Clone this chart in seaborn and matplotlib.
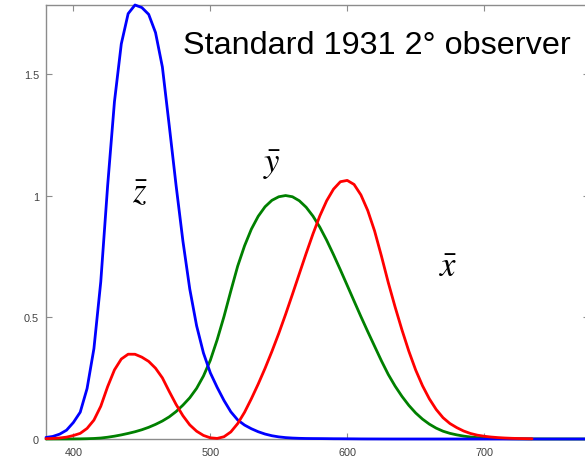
import numpy as np
import pandas as pd
import matplotlib
matplotlib.use("Agg")
import matplotlib.pyplot as plt
import seaborn as sns

wavelength = list(range(380, 785, 5))

x_bar = [0.001368, 0.002236, 0.004243, 0.007650, 0.014310, 0.023190, 0.043510, 0.077630,
         0.134380, 0.214770, 0.283900, 0.328500, 0.348280, 0.348060, 0.336200, 0.318700,
         0.290800, 0.251100, 0.195360, 0.142100, 0.095640, 0.057950, 0.032010, 0.014700,
         0.004900, 0.002400, 0.009300, 0.029100, 0.063270, 0.109600, 0.165500, 0.225750,
         0.290400, 0.359700, 0.433450, 0.512050, 0.594500, 0.678400, 0.762100, 0.842500,
         0.916300, 0.978600, 1.026300, 1.056700, 1.062200, 1.045600, 1.002600, 0.938400,
         0.854450, 0.751400, 0.642400, 0.541900, 0.447900, 0.360800, 0.283500, 0.218700,
         0.164900, 0.121200, 0.087400, 0.063600, 0.046770, 0.032900, 0.022700, 0.015840,
         0.011359, 0.008111, 0.005790, 0.004109, 0.002899, 0.002049, 0.001440, 0.001000]

y_bar = [0.000039, 0.000064, 0.000120, 0.000217, 0.000396, 0.000640, 0.001210, 0.002180,
         0.004000, 0.007300, 0.011600, 0.016840, 0.023000, 0.029800, 0.038000, 0.048000,
         0.060000, 0.073900, 0.090980, 0.112600, 0.139020, 0.169300, 0.208020, 0.258600,
         0.323000, 0.407300, 0.503000, 0.608200, 0.710000, 0.793200, 0.862000, 0.914850,
         0.954000, 0.980300, 0.994950, 1.000000, 0.995000, 0.978600, 0.952000, 0.915400,
         0.870000, 0.816300, 0.757000, 0.694900, 0.631000, 0.566800, 0.503000, 0.441200,
         0.381000, 0.321000, 0.265000, 0.217000, 0.175000, 0.138200, 0.107000, 0.081600,
         0.061000, 0.044580, 0.032000, 0.023200, 0.017000, 0.011920, 0.008210, 0.005723,
         0.004102, 0.002929, 0.002091, 0.001484, 0.001047, 0.000740, 0.000520, 0.000361,
         0.000249, 0.000172, 0.000120, 0.000085, 0.000060, 0.000042, 0.000030, 0.000021,
         0.000015]

z_bar = [0.006450, 0.010550, 0.020050, 0.036210, 0.067850, 0.110200, 0.207400, 0.371300,
         0.645600, 1.039050, 1.385600, 1.622960, 1.747060, 1.782600, 1.772110, 1.744100,
         1.669200, 1.528100, 1.287640, 1.041900, 0.812950, 0.616200, 0.465180, 0.353300,
         0.272000, 0.212300, 0.158200, 0.111700, 0.078250, 0.057250, 0.042160, 0.029840,
         0.020300, 0.013400, 0.008750, 0.005750, 0.003900, 0.002750, 0.002100, 0.001800,
         0.001650, 0.001400, 0.001100, 0.001000, 0.000800, 0.000600, 0.000340, 0.000240,
         0.000190, 0.000100, 0.000050, 0.000030, 0.000020, 0.000010, 0.0, 0.0,
         0.0, 0.0, 0.0, 0.0, 0.0, 0.0, 0.0, 0.0,
         0.0, 0.0, 0.0, 0.0, 0.0, 0.0, 0.0, 0.0,
         0.0, 0.0, 0.0, 0.0, 0.0, 0.0, 0.0, 0.0,
         0.0]

x_ticks = [400, 500, 600, 700]
y_ticks = [0, 0.5, 1, 1.5]
y_tick_labels = ["0", "0.5", "1", "1.5"]

title_text = "Standard 1931 2\u00b0 observer"
curve_labels = [(r"$\bar{z}$", 140, 193), (r"$\bar{y}$", 272, 165), (r"$\bar{x}$", 448, 268)]

sns.set_style("white")
plt.rcParams["font.family"] = ["Liberation Sans", "DejaVu Sans"]
plt.rcParams["mathtext.fontset"] = "stix"

fig = plt.figure(figsize=(5.85, 4.6), dpi=100)
ax = fig.add_axes([46 / 585, 20 / 460, (589 - 46) / 585, 434 / 460])

df_x = pd.DataFrame({"wl": wavelength[:len(x_bar)], "v": x_bar})
df_y = pd.DataFrame({"wl": wavelength, "v": y_bar})
df_z = pd.DataFrame({"wl": wavelength, "v": z_bar})

lw = 2.0
sns.lineplot(data=df_y, x="wl", y="v", ax=ax, color="#008000", linewidth=lw, clip_on=False)
sns.lineplot(data=df_z, x="wl", y="v", ax=ax, color="#0000ff", linewidth=lw, clip_on=False)
sns.lineplot(data=df_x, x="wl", y="v", ax=ax, color="#ff0000", linewidth=lw, clip_on=False)

ax.set_xlim(380, 776.6)
ax.set_ylim(0, 1.7826)
ax.set_xticks(x_ticks)
ax.set_xticklabels([str(t) for t in x_ticks])
ax.set_yticks(y_ticks)
ax.set_yticklabels(y_tick_labels)
ax.set_xlabel("")
ax.set_ylabel("")

for s in ax.spines.values():
    s.set_color("#8c8c8c")
    s.set_linewidth(1.0)
    s.set_zorder(0.5)
ax.tick_params(direction="in", length=4, width=0.8, color="#8c8c8c",
               labelsize=7.8, labelcolor="#404040",
               top=True, right=True, bottom=True, left=True)
ax.tick_params(axis="x", pad=6)
ax.tick_params(axis="y", pad=5)

ax.text(183 / 585, 1 - 46 / 460, title_text, transform=fig.transFigure,
        fontsize=23.3, color="black", ha="left", va="center")

for lab, px, py in curve_labels:
    ax.text(px / 585, 1 - py / 460, lab, transform=fig.transFigure,
            fontsize=25, color="black", ha="center", va="center")

fig.savefig("out.png", dpi=100)
